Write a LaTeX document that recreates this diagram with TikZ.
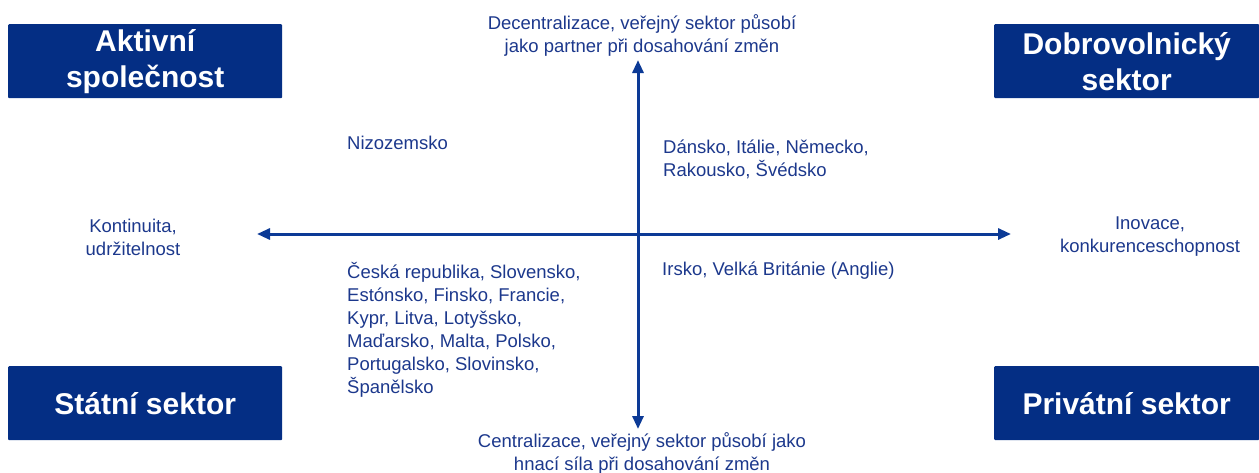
\documentclass[tikz,border=0pt]{standalone}
\usepackage{fontspec}
\setmainfont{Liberation Sans}
\usetikzlibrary{arrows.meta}
\definecolor{boxblue}{RGB}{4,46,132}
\definecolor{txtblue}{RGB}{28,56,140}
\definecolor{axblue}{RGB}{12,58,150}
\tikzset{
  sector/.style={fill=boxblue, draw=none, rounded corners=1pt, text=white, font=\fontsize{30}{36}\selectfont\bfseries, align=center, minimum height=74pt, inner sep=0pt, anchor=north west},
  lab/.style={text=txtblue, font=\fontsize{18.5}{23}\selectfont, inner sep=0pt},
  axis/.style={draw=axblue, line width=3pt, -{Triangle[length=13pt,width=11pt]}}
}
\begin{document}
\begin{tikzpicture}[x=1pt,y=-1pt]
\useasboundingbox (0,0) rectangle (1259,472);
\node[sector, minimum width=274pt] (as) at (8,24) {Aktivní\\společnost};
\node[sector, minimum width=265pt] (ds) at (994,24) {Dobrovolnický\\sektor};
\node[sector, minimum width=274pt] (ss) at (8,366) {Státní sektor};
\node[sector, minimum width=265pt] (ps) at (994,366) {Privátní sektor};
\coordinate (c) at (638,234);
\coordinate (top) at (638,60);
\coordinate (bot) at (638,429);
\coordinate (lft) at (257,234);
\coordinate (rgt) at (1011,234);
\draw[axis] (c) -- (top);
\draw[axis] (c) -- (bot);
\draw[axis] (c) -- (lft);
\draw[axis] (c) -- (rgt);
\node[lab, align=center] (dec) at (642,35) {Decentralizace, veřejný sektor působí\\jako partner při dosahování změn};
\node[lab, align=center] (cen) at (642,453) {Centralizace, veřejný sektor působí jako\\hnací síla při dosahování změn};
\node[lab, align=center] (kon) at (133,237) {Kontinuita,\\udržitelnost};
\node[lab, align=center] (ino) at (1150,237) {Inovace,\\konkurenceschopnost};
\node[lab, anchor=west] (niz) at (347,143) {Nizozemsko};
\node[lab, align=left, anchor=north west] (dan) at (663,140) {Dánsko, Itálie, Německo,\\Rakousko, Švédsko};
\node[lab, anchor=west] (irs) at (662,271) {Irsko, Velká Británie (Anglie)};
\node[lab, align=left, anchor=north west] (ces) at (347,262) {Česká republika, Slovensko,\\Estónsko, Finsko, Francie,\\Kypr, Litva, Lotyšsko,\\Maďarsko, Malta, Polsko,\\Portugalsko, Slovinsko,\\Španělsko};
\end{tikzpicture}
\end{document}
